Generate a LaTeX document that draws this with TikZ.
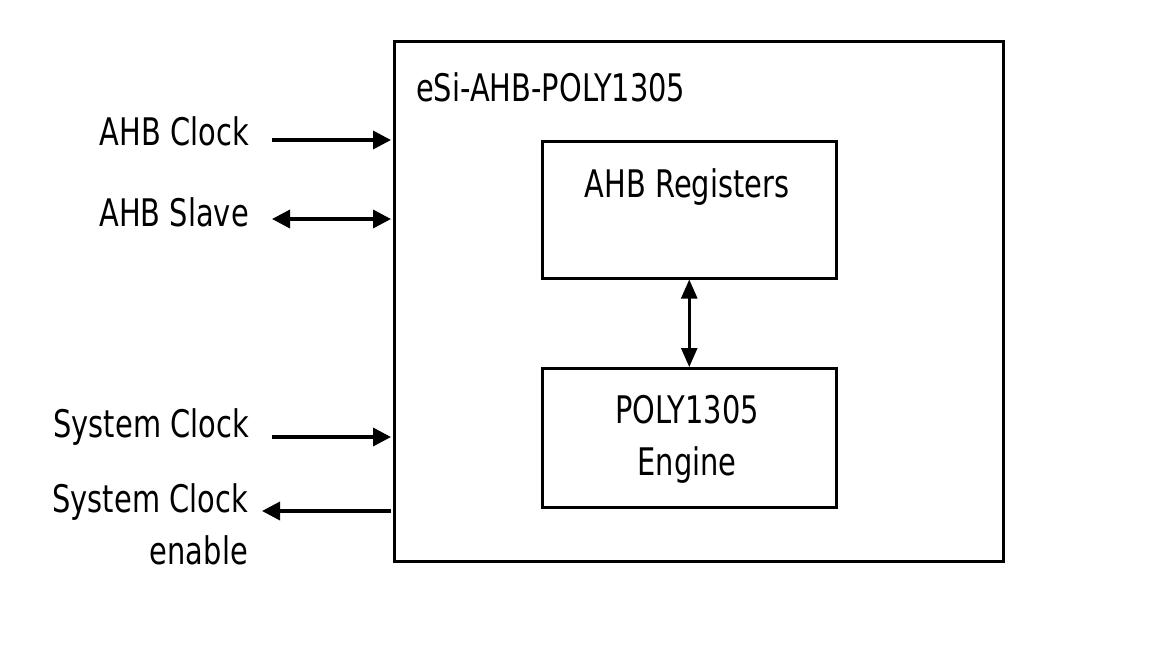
\documentclass[tikz,border=0pt]{standalone}
\usepackage{fontspec}
\setmainfont{DejaVu Sans}[FakeStretch=0.76]
\usetikzlibrary{arrows.meta}
\begin{document}
\begin{tikzpicture}[x=1pt,y=-1pt,
  lbl/.style={inner sep=0pt,font=\fontsize{38}{52}\selectfont},
  box/.style={draw,line width=2.5pt,inner sep=0pt},
  sig/.style={line width=3.5pt,-{Triangle[length=18pt,width=18pt]}},
  sigb/.style={line width=3.5pt,{Triangle[length=18pt,width=18pt]}-{Triangle[length=18pt,width=18pt]}},
  inner/.style={line width=2.5pt,{Triangle[length=19pt,width=16pt]}-{Triangle[length=19pt,width=16pt]}}]
\useasboundingbox (0,0) rectangle (1152,648);
\node[box,minimum width=609pt,minimum height=520pt,anchor=north west] (outer) at (393,40) {};
\node[box,minimum width=294pt,minimum height=137pt,anchor=north west] (reg) at (541,140) {};
\node[box,minimum width=294pt,minimum height=139pt,anchor=north west] (eng) at (541,367) {};
\node[lbl,anchor=west] (title) at (416,87) {eSi-AHB-POLY1305};
\node[lbl] (regt) at (687,187) {AHB Registers};
\node[lbl,align=center] (engt) at (687,439) {POLY1305\\Engine};
\draw[inner] (reg.south) -- (eng.north);
\node[lbl,anchor=east] (ahbclk) at (249,131) {AHB Clock};
\node[lbl,anchor=east] (ahbslv) at (249,212) {AHB Slave};
\node[lbl,anchor=east] (sysclk) at (249,427) {System Clock};
\node[lbl,anchor=east,align=right] (sysen) at (248,524) {System Clock\\enable};
\coordinate (a1) at (272,140);
\coordinate (a2) at (272,219);
\coordinate (a3) at (272,437);
\coordinate (a4) at (262,511);
\coordinate (b1) at (391,140);
\coordinate (b2) at (391,219);
\coordinate (b3) at (391,437);
\coordinate (b4) at (391,511);
\draw[sig] (a1) -- (b1);
\draw[sigb] (a2) -- (b2);
\draw[sig] (a3) -- (b3);
\draw[sig] (b4) -- (a4);
\end{tikzpicture}
\end{document}
